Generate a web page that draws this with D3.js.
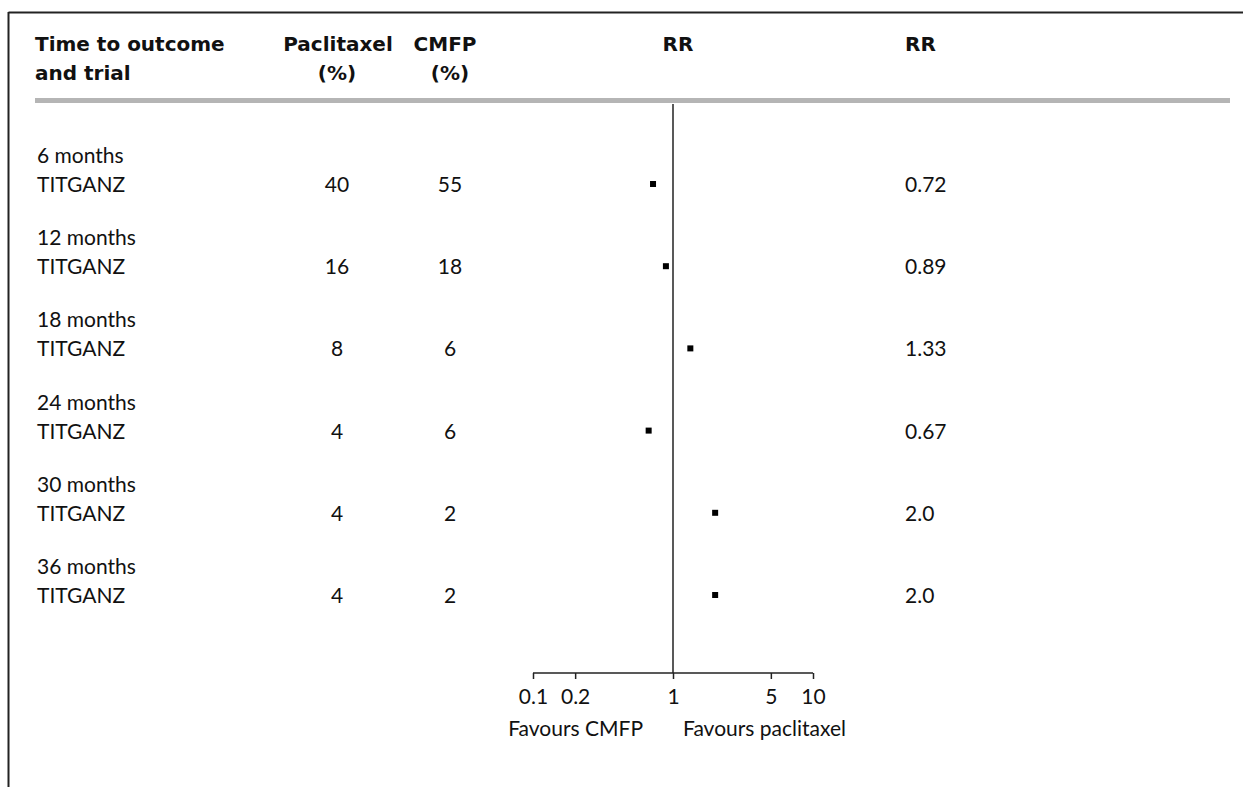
<!DOCTYPE html>
<html>
<head>
<meta charset="utf-8">
<script src="https://cdn.jsdelivr.net/npm/d3@7"></script>
<style>
  body { margin: 0; background: #fff; }
  svg { display: block; }
  .hdr { font-family: "DejaVu Sans", sans-serif; font-weight: bold; font-size: 20px; fill: #111; }
  .txt { font-family: Lato, "Noto Sans", sans-serif; font-size: 21px; fill: #111; }
  .axis text { font-family: Lato, "Noto Sans", sans-serif; font-size: 21px; fill: #111; }
  .axis path, .axis line { stroke: #222; stroke-width: 1.5; }
</style>
</head>
<body>
<svg id="chart"></svg>
<script>
// data
const groups = ["6 months", "12 months", "18 months", "24 months", "30 months", "36 months"];
const trials = ["TITGANZ", "TITGANZ", "TITGANZ", "TITGANZ", "TITGANZ", "TITGANZ"];
const paclitaxel = [40, 16, 8, 4, 4, 4];
const cmfp = [55, 18, 6, 6, 2, 2];
const rr = [0.72, 0.89, 1.33, 0.67, 2.0, 2.0];
const rrLabels = ["0.72", "0.89", "1.33", "0.67", "2.0", "2.0"];
const ticks = [0.1, 0.2, 1, 5, 10];

const W = 1243, H = 787;
const svg = d3.select("#chart").attr("width", W).attr("height", H);

// frame: top and left rules only
svg.append("line").attr("x1", 8.5).attr("x2", W).attr("y1", 12.5).attr("y2", 12.5)
  .attr("stroke", "#222").attr("stroke-width", 2);
svg.append("line").attr("x1", 8.5).attr("x2", 8.5).attr("y1", 12).attr("y2", H)
  .attr("stroke", "#222").attr("stroke-width", 2);

const x = d3.scaleLog().domain([0.1, 10]).range([533, 813]);
const y = d3.scalePoint().domain(d3.range(groups.length)).range([184, 595]);

const colPac = 337, colCmfp = 450, colRR = 905;

// header
const hdr = [
  { t: "Time to outcome", x: 35, y: 51, a: "start" },
  { t: "and trial", x: 35, y: 80, a: "start" },
  { t: "Paclitaxel", x: 338, y: 51, a: "middle" },
  { t: "(%)", x: colPac, y: 80, a: "middle" },
  { t: "CMFP", x: 445, y: 51, a: "middle" },
  { t: "(%)", x: colCmfp, y: 80, a: "middle" },
  { t: "RR", x: x(1) + 5, y: 51, a: "middle" },
  { t: "RR", x: colRR, y: 51, a: "start" }
];
svg.selectAll("text.hdr").data(hdr).enter().append("text")
  .attr("class", "hdr")
  .attr("x", d => d.x).attr("y", d => d.y)
  .attr("text-anchor", d => d.a)
  .text(d => d.t);

svg.append("rect").attr("x", 35).attr("y", 98).attr("width", 1195).attr("height", 5)
  .attr("fill", "#b5b5b5");

// no-effect line
svg.append("line")
  .attr("x1", x(1)).attr("x2", x(1)).attr("y1", 104).attr("y2", 673)
  .attr("stroke", "#222").attr("stroke-width", 1.5);

const rows = svg.append("g").selectAll("g").data(groups).enter().append("g");

rows.append("text").attr("class", "txt")
  .attr("x", 37).attr("y", (d, i) => y(i) - 21).text(d => d);
rows.append("text").attr("class", "txt")
  .attr("x", 37).attr("y", (d, i) => y(i) + 8).text((d, i) => trials[i]);
rows.append("text").attr("class", "txt").attr("text-anchor", "middle")
  .attr("x", colPac).attr("y", (d, i) => y(i) + 8).text((d, i) => paclitaxel[i]);
rows.append("text").attr("class", "txt").attr("text-anchor", "middle")
  .attr("x", colCmfp).attr("y", (d, i) => y(i) + 8).text((d, i) => cmfp[i]);
rows.append("text").attr("class", "txt")
  .attr("x", colRR).attr("y", (d, i) => y(i) + 8).text((d, i) => rrLabels[i]);

rows.append("rect")
  .attr("x", (d, i) => x(rr[i]) - 3).attr("y", (d, i) => y(i) - 3)
  .attr("width", 6).attr("height", 6).attr("fill", "#000");

// log axis
svg.append("g")
  .attr("class", "axis")
  .attr("transform", "translate(0,673)")
  .call(d3.axisBottom(x).tickValues(ticks).tickSize(6).tickSizeOuter(0).tickPadding(10)
    .tickFormat(d3.format("~g")))
  .call(g => g.select(".domain").attr("d", "M533,0H813"));

svg.append("text").attr("class", "txt").attr("text-anchor", "end")
  .attr("x", x(1) - 30).attr("y", 736).text("Favours CMFP");
svg.append("text").attr("class", "txt")
  .attr("x", x(1) + 10).attr("y", 736).text("Favours paclitaxel");
</script>
</body>
</html>
